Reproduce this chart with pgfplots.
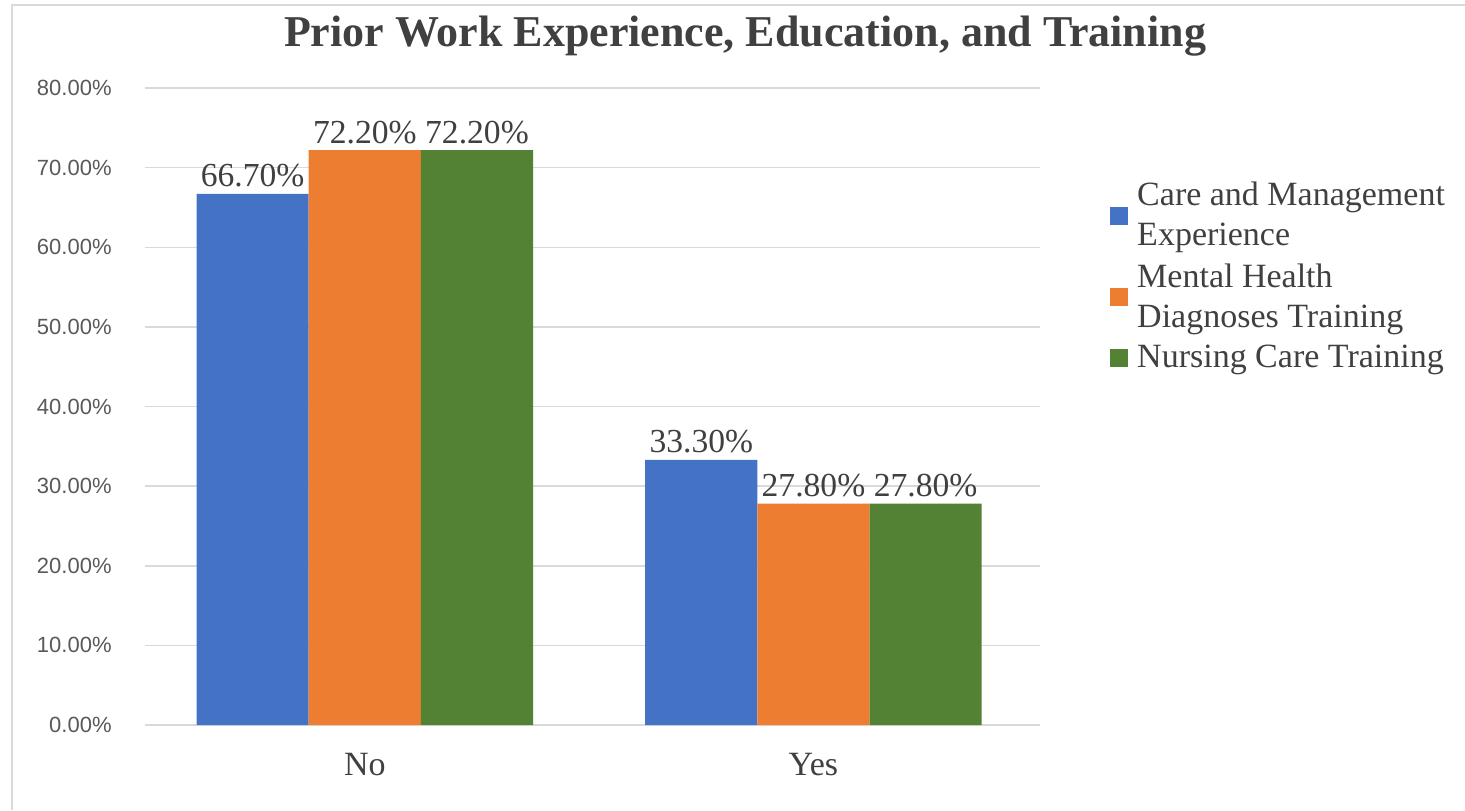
\documentclass[border=0pt]{standalone}
\usepackage{pgfplots}
\pgfplotsset{compat=1.18}
\usepackage{fontspec}
\setmainfont{Liberation Serif}
\newfontfamily\ticksans{Liberation Sans}
\definecolor{cblue}{HTML}{4472C4}
\definecolor{corange}{HTML}{ED7D31}
\definecolor{cgreen}{HTML}{548235}
\definecolor{gridgray}{HTML}{D9D9D9}
\definecolor{txtgray}{HTML}{404040}
\definecolor{tickgray}{HTML}{595959}

\begin{document}
\begin{tikzpicture}
\useasboundingbox (-72.5pt,-42.5pt) rectangle (660pt,362.5pt);
\draw[gridgray, line width=0.6pt] (-66.5pt,-42.5pt) -- (-66.5pt,360pt) -- (660pt,360pt);
\begin{axis}[
    scale only axis,
    width=447.5pt, height=318.5pt,
    at={(0pt,0pt)}, anchor=south west,
    ybar, bar width=0.25,
    xmin=-0.49, xmax=1.505,
    ymin=0, ymax=80,
    xtick=data, xticklabels={No, Yes},
    ytick={0,10,...,80},
    axis line style={draw=none},
    ymajorgrids, grid style={gridgray, line width=0.75pt},
    major tick length=0pt,
    /pgf/number format/assume math mode=true,
    yticklabel={\pgfmathprintnumber[fixed,fixed zerofill,precision=2]{\tick}\%},
    y tick label style={font=\ticksans\fontsize{11}{13}\selectfont, text=tickgray, anchor=east, inner sep=0pt, xshift=-16.5pt},
    x tick label style={font=\fontsize{17}{20}\selectfont, text=txtgray, anchor=base, inner sep=0pt, yshift=-25pt},
    nodes near coords={\pgfmathprintnumber[fixed,fixed zerofill,precision=2]{\pgfplotspointmeta}\%},
    every node near coord/.append style={font=\fontsize{16.8}{20}\selectfont, text=txtgray, anchor=base, inner sep=0pt, yshift=3.5pt},
    clip=false,
    legend style={draw=none, fill=none, at={(1.078,0.859)}, anchor=north west, inner sep=0pt,
        font=\fontsize{17}{20}\selectfont, text=txtgray, cells={align=left, anchor=west},
        row sep=3.5pt, column sep=2.5pt},
    legend image code/.code={\fill[#1] (0pt,-4.5pt) rectangle (9pt,4.5pt);},
]
\addplot[fill=cblue, draw=none, bar shift=-0.25] coordinates {(0,66.7) (1,33.3)};
\addlegendentry{Care and Management\\Experience}
\addplot[fill=corange, draw=none, bar shift=0] coordinates {(0,72.2) (1,27.8)};
\addlegendentry{Mental Health\\Diagnoses Training}
\addplot[fill=cgreen, draw=none, bar shift=0.25] coordinates {(0,72.2) (1,27.8)};
\addlegendentry{Nursing Care Training}
\end{axis}
\node[anchor=base, font=\bfseries\fontsize{22}{26}\selectfont, text=txtgray] at (300pt,339pt) {Prior Work Experience, Education, and Training};
\end{tikzpicture}
\end{document}
